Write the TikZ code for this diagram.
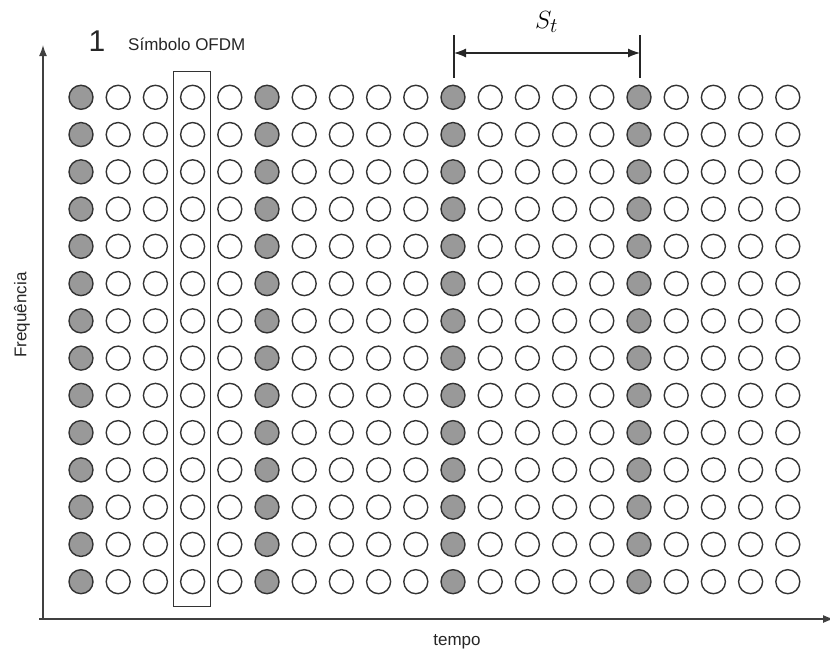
\documentclass[tikz,border=0pt]{standalone}
\usepackage{fontspec}
\setmainfont{Liberation Sans}
\usetikzlibrary{arrows.meta}
\begin{document}
\begin{tikzpicture}[x=1pt,y=-1pt,
  dot/.style={circle, draw=black!80, line width=1.4pt, minimum size=24pt, inner sep=0pt},
  axis/.style={draw=black!75, line width=1.5pt, -{Latex[length=11pt,width=8pt]}},
  tick/.style={draw=black!85, line width=1.2pt},
  span/.style={draw=black!85, line width=1.2pt, {Latex[length=12pt,width=9pt]}-{Latex[length=12pt,width=9pt]}},
  symbox/.style={draw=black!80, line width=1pt, minimum width=37pt, minimum height=535pt, inner sep=0pt},
  lbl/.style={font=\fontsize{17}{20}\selectfont, text=black!85, inner sep=0pt},
]
\useasboundingbox (0,0) rectangle (830,653);

% resource grid: 20 OFDM symbols x 14 subcarriers, pilots every 5th symbol
\foreach \c in {1,...,20} {
  \pgfmathtruncatemacro\p{mod(\c-1,5)}
  \ifnum\p=0 \def\fc{black!40}\else\def\fc{white}\fi
  \foreach \r in {1,...,14} {
    \node[dot, fill=\fc] (c-\c-\r) at ({81+(\c-1)*37.2}, {97.3+(\r-1)*37.26}) {};
  }
}

% one OFDM symbol highlighted
\node[symbox] (sym) at (192.4,339.4) {};

% axes
\coordinate (o) at (43,619);
\coordinate (ytop) at (43,45);
\coordinate (xstart) at (39,619);
\coordinate (xend) at (834,619);
\draw[axis] (o) -- (ytop);
\draw[axis] (xstart) -- (xend);

% pilot spacing S_t
\coordinate (tl1) at (454,35);
\coordinate (tl2) at (454,78);
\coordinate (tr1) at (640,35);
\coordinate (tr2) at (640,78);
\coordinate (al) at (454,53);
\coordinate (ar) at (640,53);
\draw[tick] (tl1) -- (tl2);
\draw[tick] (tr1) -- (tr2);
\draw[span] (al) -- (ar);
\node[font=\fontsize{30}{32}\selectfont, inner sep=0pt, anchor=base west] (st) at (535,28) {$S_t$};

% labels
\node[font=\fontsize{30}{32}\selectfont, text=black!85, inner sep=0pt] (one) at (97,41) {1};
\node[lbl, anchor=west] (symlbl) at (128,44) {Símbolo OFDM};
\node[lbl, rotate=90] (freq) at (22,315) {Frequência};
\node[lbl] (tempo) at (457,642) {tempo};
\end{tikzpicture}
\end{document}
